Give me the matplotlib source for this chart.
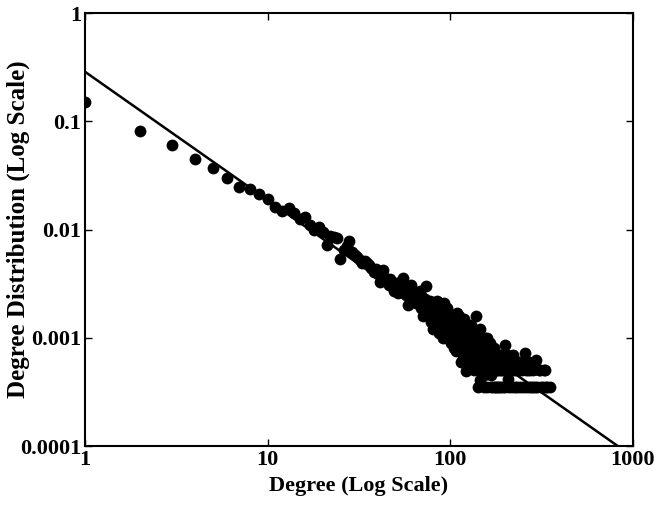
import matplotlib.pyplot as plt
import numpy as np

plt.rcParams['font.family'] = ['Liberation Serif', 'DejaVu Serif']
plt.rcParams['font.weight'] = 'bold'

# degree k and its distribution P(k)
degree = [1, 2, 3, 4, 5, 6, 7, 8, 9, 10,
          11, 12, 13, 14, 15, 16, 17, 18, 19, 20,
          21, 22, 23, 24, 25, 26, 27, 28, 29, 30,
          31, 32, 33, 34, 35, 36, 37, 38, 39, 40,
          41, 42, 43, 44, 45, 46, 47, 48, 49, 50,
          51, 52, 53, 54, 55, 56, 57, 58, 59, 60,
          61, 62, 63, 64, 65, 66, 67, 68, 69, 70,
          71, 72, 73, 74, 75, 76, 77, 78, 79, 80,
          82, 83, 85, 86, 88, 90, 92, 94, 95, 97,
          99, 100, 102, 104, 105, 107, 108, 110, 112, 114,
          116, 118, 120, 122, 124, 126, 128, 130, 133, 136,
          139, 141, 143, 145, 147, 150, 153, 155, 158, 160,
          163, 166, 170, 174, 177, 179, 182, 186, 190, 194,
          198, 202, 206, 210, 215, 220, 225, 230, 236, 242,
          248, 255, 260, 265, 270, 276, 282, 290, 296, 305,
          315, 325, 335, 350]
prob = [0.150, 0.081, 0.060, 0.045, 0.037, 0.030, 0.025, 0.0237, 0.0213, 0.0192,
        0.0163, 0.0150, 0.0160, 0.0141, 0.0125, 0.0131, 0.0111, 0.0100, 0.0106, 0.0096,
        0.0072, 0.0088, 0.0086, 0.0084, 0.0053, 0.0065, 0.0070, 0.0078, 0.0062, 0.0058,
        0.0056, 0.0052, 0.0049, 0.0051, 0.0049, 0.0047, 0.0044, 0.0041, 0.0043, 0.0039,
        0.0033, 0.0040, 0.0042, 0.0036, 0.0034, 0.0031, 0.0035, 0.0030, 0.0027, 0.0032,
        0.0029, 0.0026, 0.0033, 0.0030, 0.0036, 0.0027, 0.0025, 0.0028, 0.0020, 0.0024,
        0.0031, 0.0022, 0.0026, 0.0023, 0.0021, 0.0025, 0.0022, 0.0027, 0.0019, 0.0024,
        0.0016, 0.0021, 0.0023, 0.0030, 0.0019, 0.0017, 0.0022, 0.0014, 0.0020, 0.0012,
        0.0018, 0.0015, 0.0019, 0.0013, 0.0016, 0.0014, 0.0021, 0.0012, 0.0015, 0.0011,
        0.00096, 0.0013, 0.0010, 0.0016, 0.0008, 0.0012, 0.00075, 0.0011, 0.0016, 0.0009,
        0.0013, 0.0007, 0.0010, 0.00049, 0.0008, 0.0012, 0.0006, 0.0009, 0.0007, 0.0011,
        0.00158, 0.00035, 0.0005, 0.00041, 0.0008, 0.0006, 0.00035, 0.0010, 0.00099, 0.0005,
        0.0007, 0.00035, 0.0006, 0.0008, 0.0005, 0.000625, 0.00035, 0.0007, 0.0005, 0.00035,
        0.00086, 0.0006, 0.00042, 0.00035, 0.0005, 0.0007, 0.00035, 0.0005, 0.0006, 0.00035,
        0.0005, 0.00072, 0.00035, 0.0005, 0.0006, 0.00035, 0.0005, 0.00035, 0.000625, 0.0005,
        0.00035, 0.0005, 0.00035, 0.00035]

# further degrees in the dense tail (k > 80)
tail_degree = [81, 84, 87, 89, 91, 93, 96, 98, 101, 103,
               106, 109, 111, 113, 115, 117, 119, 121, 123, 125,
               127, 129, 131, 132, 134, 135, 137, 138, 140, 142,
               144, 146, 148, 149, 151, 152, 154, 156, 157, 159,
               161, 162, 164, 165, 167, 168, 169, 171, 172, 173,
               175, 176, 178, 180, 181, 184, 185, 188, 189, 192,
               196, 200, 204, 208, 212, 218, 222, 228, 233, 239,
               245, 251, 258, 268, 274, 285, 300, 310, 320, 330,
               340]
tail_prob = [0.0017, 0.0022, 0.0011, 0.0018, 0.0010, 0.0016, 0.0019, 0.0014, 0.0009, 0.0014,
             0.0011, 0.0017, 0.0008, 0.0013, 0.0006, 0.0010, 0.0015, 0.0008, 0.0011, 0.0006,
             0.0009, 0.0013, 0.0007, 0.0010, 0.0005, 0.0008, 0.0006, 0.0009, 0.0007, 0.0010,
             0.0006, 0.0012, 0.0005, 0.0007, 0.0009, 0.00045, 0.0007, 0.0005, 0.0008, 0.00035,
             0.0007, 0.0006, 0.0005, 0.0009, 0.0006, 0.00045, 0.0008, 0.00035, 0.0005, 0.0007,
             0.00035, 0.0006, 0.00035, 0.0005, 0.0007, 0.0005, 0.00035, 0.0006, 0.00035, 0.0005,
             0.0006, 0.00035, 0.0005, 0.0007, 0.0005, 0.00035, 0.0005, 0.0006, 0.00035, 0.0005,
             0.0006, 0.00035, 0.0005, 0.00035, 0.0005, 0.00035, 0.00035, 0.0005, 0.00035, 0.0005,
             0.00035]

# fitted power-law line end points
fit_x = [1, 826]
fit_y = [0.287, 0.0001]

xticks = [1, 10, 100, 1000]
xlabels = ['1', '10', '100', '1000']
yticks = [0.0001, 0.001, 0.01, 0.1, 1]
ylabels = ['0.0001', '0.001', '0.01', '0.1', '1']

fig = plt.figure(figsize=(6.6, 5.08), dpi=100)
ax = fig.add_axes([0.129, 0.122, 0.830, 0.852])

ax.plot(degree + tail_degree, prob + tail_prob, 'o', color='black',
        markersize=8.5, markeredgewidth=0)
ax.plot(fit_x, fit_y, '-', color='black', linewidth=1.8)

ax.set_xscale('log')
ax.set_yscale('log')
ax.set_xlim(1, 1000)
ax.set_ylim(0.0001, 1)
ax.set_xticks(xticks)
ax.set_xticklabels(xlabels)
ax.set_yticks(yticks)
ax.set_yticklabels(ylabels)
ax.minorticks_off()
ax.tick_params(direction='in', length=5, width=1, top=True, right=True,
               labelsize=16, pad=3)
for sp in ax.spines.values():
    sp.set_linewidth(1.5)

ax.set_xlabel('Degree (Log Scale)', fontsize=16, fontweight='bold', labelpad=4)
ax.set_ylabel('Degree Distribution (Log Scale)', fontsize=18, fontweight='bold')
ax.yaxis.set_label_coords(-0.1, 0.5)

fig.savefig('out.png', dpi=100)
